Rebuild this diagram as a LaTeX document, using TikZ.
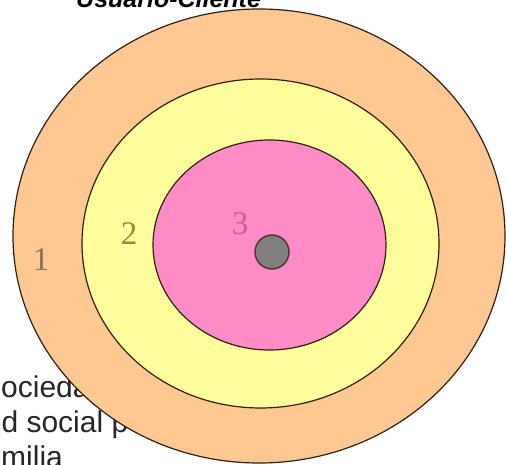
\documentclass[tikz,border=0pt]{standalone}
\usepackage{fontspec}
\usepackage{tikz}
\setmainfont{Liberation Serif}
\setsansfont{Liberation Sans}
\definecolor{ringorange}{HTML}{FFC892}
\definecolor{ringgelb}{HTML}{FFFC9C}
\definecolor{ringrosa}{HTML}{FF8CC6}
\definecolor{kernfarbe}{HTML}{7F7F7F}
\definecolor{randfarbe}{HTML}{2E2010}
\tikzset{
    ring/.style     = {draw=randfarbe, line width=1.2pt},
    ziffer/.style   = {font=\fontsize{33}{33}\selectfont, anchor=base, inner sep=0pt},
    zeile/.style    = {font=\sffamily\fontsize{30}{30}\selectfont, anchor=base west,
                       inner sep=0pt, text=black!85}
}

\begin{document}
\begin{tikzpicture}[x=1pt, y=-1pt]
        \useasboundingbox (0,0) rectangle (506,465);
        \clip (0,0) rectangle (506,465);

        % Titel (oben abgeschnitten)
        \node[font=\sffamily\bfseries\itshape\fontsize{25}{25}\selectfont,
              anchor=base west, inner sep=0pt] (titel) at (76,8) {Usuario-Cliente};

        % Aufzaehlung links unten, teilweise verdeckt
        \node[zeile] (sociedad) at (-19,397) {Sociedad};
        \node[zeile] (red)      at (-37,432) {Red social p};
        \node[zeile] (familia)  at (-34,467) {Familia};

        % Ringe von aussen nach innen
        \draw[ring, fill=ringorange] (259,236) ellipse [x radius=246, y radius=227];
        \draw[ring, fill=ringgelb]   (260.5,243.5) ellipse [x radius=178.5, y radius=164.5];
        \draw[ring, fill=ringrosa]   (269.5,245) ellipse [x radius=116.5, y radius=105];

        % Kern
        \node[circle, draw=randfarbe!80!ringrosa, line width=1.5pt, fill=kernfarbe,
              minimum size=34pt, inner sep=0pt] (kern) at (272,252) {};

        % Ringnummern
        \node[ziffer, text=black!45!ringorange!70!gray] (eins) at (41,270)  {1};
        \node[ziffer, text=olive!55!gray]               (zwei) at (129,244) {2};
        \node[ziffer, text=ringrosa!60!purple!80!gray]  (drei) at (240,235) {3};
\end{tikzpicture}
\end{document}
